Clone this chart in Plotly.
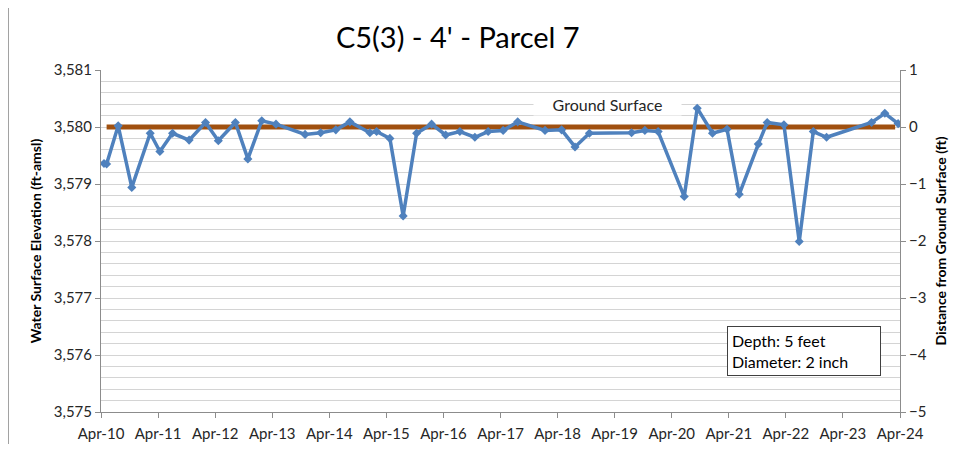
import plotly.graph_objects as go

dates = ["2010-04-20", "2010-05-07", "2010-07-20", "2010-10-15", "2011-02-10", "2011-04-13",
         "2011-07-03", "2011-10-17", "2012-01-30", "2012-04-21", "2012-08-08", "2012-10-27",
         "2013-01-24", "2013-04-25", "2013-10-28", "2014-02-05", "2014-05-13", "2014-08-11",
         "2014-12-17", "2015-01-29", "2015-04-24", "2015-07-18", "2015-10-12", "2016-01-16",
         "2016-04-15", "2016-07-15", "2016-10-19", "2017-01-12", "2017-04-18", "2017-07-20",
         "2018-01-11", "2018-04-27", "2018-07-22", "2018-10-22", "2019-07-19", "2019-10-12",
         "2020-01-05", "2020-06-20", "2020-09-11", "2020-12-18", "2021-03-21", "2021-06-07",
         "2021-10-07", "2021-12-03", "2022-03-20", "2022-06-26", "2022-09-24", "2022-12-18",
         "2023-10-02", "2023-12-26", "2024-03-20"]
elevation = [3579.36, 3579.35, 3580.02, 3578.94, 3579.89, 3579.57,
             3579.89, 3579.77, 3580.08, 3579.76, 3580.08, 3579.44,
             3580.11, 3580.05, 3579.87, 3579.90, 3579.95, 3580.09,
             3579.90, 3579.92, 3579.80, 3578.44, 3579.89, 3580.05,
             3579.86, 3579.92, 3579.82, 3579.92, 3579.94, 3580.09,
             3579.94, 3579.95, 3579.65, 3579.89, 3579.90, 3579.94,
             3579.92, 3578.78, 3580.33, 3579.89, 3579.96, 3578.82,
             3579.70, 3580.08, 3580.04, 3577.99, 3579.92, 3579.82,
             3580.08, 3580.24, 3580.06]
ground_dates = ["2010-05-07", "2024-03-01"]
ground_elev = [3580.0, 3580.0]
tick_dates = ["2010-04-01", "2011-04-01", "2012-04-01", "2013-04-01", "2014-04-01",
              "2015-04-01", "2016-04-01", "2017-04-01", "2018-04-01", "2019-04-01",
              "2020-04-01", "2021-04-01", "2022-04-01", "2023-04-01", "2024-04-01"]
tick_labels = ["Apr-10", "Apr-11", "Apr-12", "Apr-13", "Apr-14", "Apr-15", "Apr-16",
               "Apr-17", "Apr-18", "Apr-19", "Apr-20", "Apr-21", "Apr-22", "Apr-23", "Apr-24"]
left_ticks = [3575, 3576, 3577, 3578, 3579, 3580, 3581]
left_labels = ["3,575", "3,576", "3,577", "3,578", "3,579", "3,580", "3,581"]
right_ticks = [-5, -4, -3, -2, -1, 0, 1]

FONT = "Lato, 'Open Sans', sans-serif"
GRID = "#d4d4d4"
AXIS = "#8c8c8c"

fig = go.Figure()
fig.add_trace(go.Scatter(x=ground_dates, y=ground_elev, mode="lines",
                         line=dict(color="#A0500F", width=5), hoverinfo="skip",
                         showlegend=False))
fig.add_trace(go.Scatter(x=dates, y=elevation, mode="lines+markers",
                         line=dict(color="#4F81BD", width=3.5),
                         marker=dict(symbol="diamond", size=7, color="#4F81BD"),
                         showlegend=False))
fig.add_trace(go.Scatter(x=[dates[0]], y=[0], yaxis="y2", mode="markers",
                         marker=dict(opacity=0), hoverinfo="skip", showlegend=False))

fig.update_layout(
    width=953, height=436,
    margin=dict(l=93, r=61, t=62, b=32),
    paper_bgcolor="white", plot_bgcolor="white",
    font=dict(family=FONT, size=15, color="#262626"),
    title=dict(text="C5(3) - 4' - Parcel 7", x=0.472, xanchor="center", y=0.931, yanchor="middle",
               font=dict(family=FONT, size=29, color="#000000")),
    xaxis=dict(type="date", range=["2010-04-01", "2024-04-01"], automargin=False,
               tickmode="array", tickvals=tick_dates, ticktext=tick_labels,
               showgrid=False, showline=True, linecolor=AXIS, linewidth=1,
               ticks="outside", ticklen=5, tickcolor=AXIS, ticklabelstandoff=3,
               tickfont=dict(size=15, color="#262626"), zeroline=False),
    yaxis=dict(range=[3575, 3581], tickmode="array", tickvals=left_ticks, ticktext=left_labels,
               automargin=False,
               showgrid=True, gridcolor=GRID, gridwidth=1,
               minor=dict(dtick=0.2, tick0=3575, showgrid=True, gridcolor=GRID, gridwidth=1),
               showline=True, linecolor=AXIS, linewidth=1,
               ticks="outside", ticklen=5, tickcolor=AXIS, zeroline=False,
               tickfont=dict(size=15, color="#262626"),
               title=dict(text="<b>Water Surface Elevation (ft-amsl)</b>", standoff=8,
                          font=dict(size=14, color="#000000"))),
    yaxis2=dict(range=[-5, 1], overlaying="y", side="right", tickmode="array",
                tickvals=right_ticks, showgrid=False, zeroline=False, automargin=False,
                showline=True, linecolor=AXIS, linewidth=1,
                ticks="outside", ticklen=5, tickcolor=AXIS,
                tickfont=dict(size=15, color="#262626"),
                title=dict(text="<b>Distance from Ground Surface (ft)</b>", standoff=10,
                           font=dict(size=14, color="#000000"))),
    annotations=[
        dict(x="2019-02-15", y=3580.40, xref="x", yref="y", text="Ground Surface",
             showarrow=False, font=dict(size=16, color="#262626"),
             bgcolor="white", width=145, align="center"),
        dict(x=0.7835, y=0.105, xref="paper", yref="paper", xanchor="left", yanchor="bottom",
             text="Depth: 5 feet<br>Diameter: 2 inch", showarrow=False, align="left",
             font=dict(size=16, color="#000000"), bgcolor="white",
             bordercolor="#404040", borderwidth=1, borderpad=4, width=144),
    ],
    shapes=[dict(type="line", xref="paper", yref="paper", x0=-0.1158, x1=-0.1158,
                 y0=-0.1, y1=1.19, line=dict(color="#a0a0a0", width=1))],
)

fig.write_html("out.html")
